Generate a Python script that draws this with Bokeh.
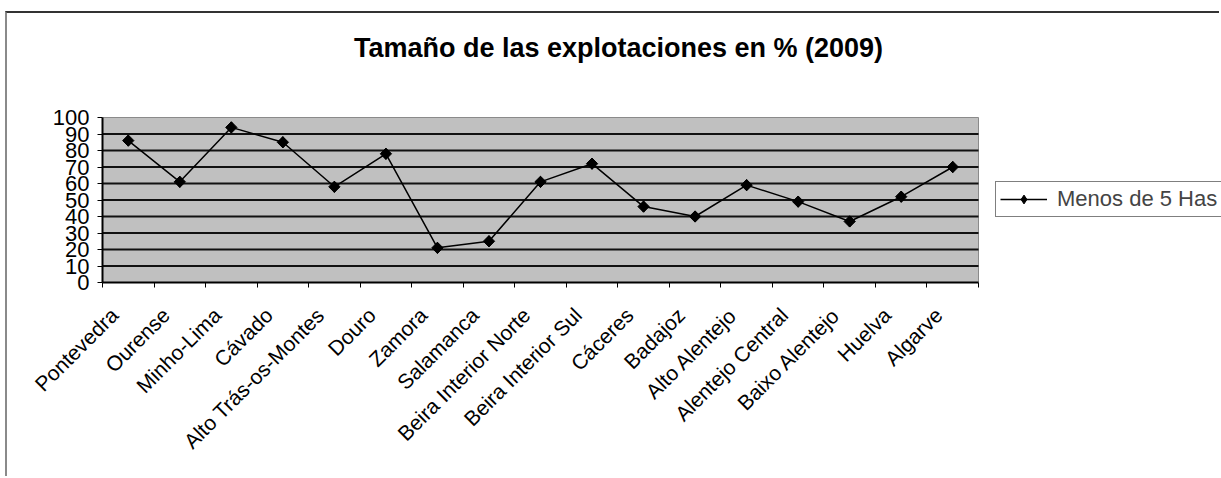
from bokeh.plotting import figure
from bokeh.models import FixedTicker, Legend, LegendItem, Range1d, ColumnDataSource, Label
from bokeh.embed import file_html
from bokeh.resources import INLINE
import math

categories = ["Pontevedra", "Ourense", "Minho-Lima", "Cávado", "Alto Trás-os-Montes",
              "Douro", "Zamora", "Salamanca", "Beira Interior Norte", "Beira Interior Sul",
              "Cáceres", "Badajoz", "Alto Alentejo", "Alentejo Central", "Baixo Alentejo",
              "Huelva", "Algarve"]
values = [86, 61, 94, 85, 58, 78, 21, 25, 61, 72, 46, 40, 59, 49, 37, 52, 70]
y_ticks = [0, 10, 20, 30, 40, 50, 60, 70, 80, 90, 100]
series_name = "Menos de 5 Has"
title_text = "Tamaño de las explotaciones en % (2009)"

n = len(categories)
xs = [i + 0.5 for i in range(n)]
src = ColumnDataSource(dict(x=xs, y=values, cat=categories))

FONT = "Liberation Sans"

# layout (pixels)
FIG_W, FIG_H = 1214, 465
LEFT, BOTTOM = 95, 196
FRAME_W = FIG_W - LEFT
FRAME_H = FIG_H - BOTTOM
PLOT_W, PLOT_H = 876, 165          # size of the grey plot area
x_end = n * FRAME_W / PLOT_W
y0, y1 = y_ticks[0], y_ticks[-1]
y_end = y0 + (y1 - y0) * FRAME_H / PLOT_H
TITLE_CX, TITLE_CY = 516, 235      # title centre, px from the plot area's bottom-left

p = figure(width=FIG_W, height=FIG_H, output_backend="svg", toolbar_location=None,
           x_range=Range1d(0, x_end), y_range=Range1d(y0, y_end),
           min_border_left=LEFT, min_border_right=0, min_border_top=0,
           min_border_bottom=BOTTOM,
           background_fill_color="white", border_fill_color="white")
p.styles = {"border-top": "2px solid #333333", "border-left": "2px solid #8a8a8a",
            "margin-left": "5px", "margin-top": "11px"}
p.outline_line_color = None

# grey plot area
p.quad(left=[0], right=[n], bottom=[y0], top=[y1],
       fill_color="#c0c0c0", line_color="#8a8a8a", line_width=1, level="image")

# horizontal grid lines (limited to the plot area)
grid_y = y_ticks[1:-1]
p.segment(x0=[0] * len(grid_y), x1=[n] * len(grid_y), y0=grid_y, y1=grid_y,
          line_color="#111111", line_width=2, level="underlay")
p.xgrid.visible = False
p.ygrid.visible = False

# title
p.add_layout(Label(x=TITLE_CX * n / PLOT_W, y=y0 + TITLE_CY * (y1 - y0) / PLOT_H,
                   text=title_text, text_font=FONT, text_font_size="27px",
                   text_font_style="bold", text_color="black",
                   text_align="center", text_baseline="middle"))

# y axis
p.yaxis.bounds = (y0, y1)
p.yaxis.ticker = FixedTicker(ticks=y_ticks)
p.yaxis.axis_line_color = "black"
p.yaxis.axis_line_width = 2
p.yaxis.major_tick_out = 5
p.yaxis.major_tick_in = 0
p.yaxis.minor_tick_out = 0
p.yaxis.minor_tick_in = 0
p.yaxis.major_label_text_font = FONT
p.yaxis.major_label_text_font_size = "22px"
p.yaxis.major_label_standoff = 8
p.yaxis.major_label_text_color = "black"

# x axis: labels near centres, ticks at boundaries
label_pos = [x - 0.27 for x in xs]
p.xaxis.bounds = (0, n)
p.xaxis.ticker = FixedTicker(ticks=label_pos, minor_ticks=list(range(n + 1)))
p.xaxis.major_label_overrides = {x: c for x, c in zip(label_pos, categories)}
p.xaxis.major_tick_out = 0
p.xaxis.major_tick_in = 0
p.xaxis.minor_tick_out = 5
p.xaxis.minor_tick_in = 0
p.xaxis.minor_tick_line_color = "black"
p.xaxis.axis_line_color = "black"
p.xaxis.axis_line_width = 2
p.xaxis.major_label_orientation = math.pi / 4
p.xaxis.major_label_text_font = FONT
p.xaxis.major_label_text_font_size = "21px"
p.xaxis.major_label_standoff = 24
p.xaxis.major_label_text_color = "black"

ln = p.line("x", "y", source=src, line_color="black", line_width=1.5)
dm = p.scatter("x", "y", source=src, marker="diamond", size=11,
               fill_color="black", line_color="black")
mk = p.scatter("x", "y", source=src, marker="square", angle=math.pi / 4, size=8,
               fill_color="black", line_color="black")

legend = Legend(items=[LegendItem(label=series_name, renderers=[ln, dm])],
                location=(893, 65), orientation="vertical",
                border_line_color="black", border_line_width=1,
                background_fill_color="white", background_fill_alpha=1,
                label_text_font=FONT, label_text_font_size="22px",
                glyph_width=47, glyph_height=22, label_standoff=10, label_height=22,
                padding=4, margin=0, spacing=0)
p.add_layout(legend)

open("out.html", "w").write(file_html(p, INLINE))
